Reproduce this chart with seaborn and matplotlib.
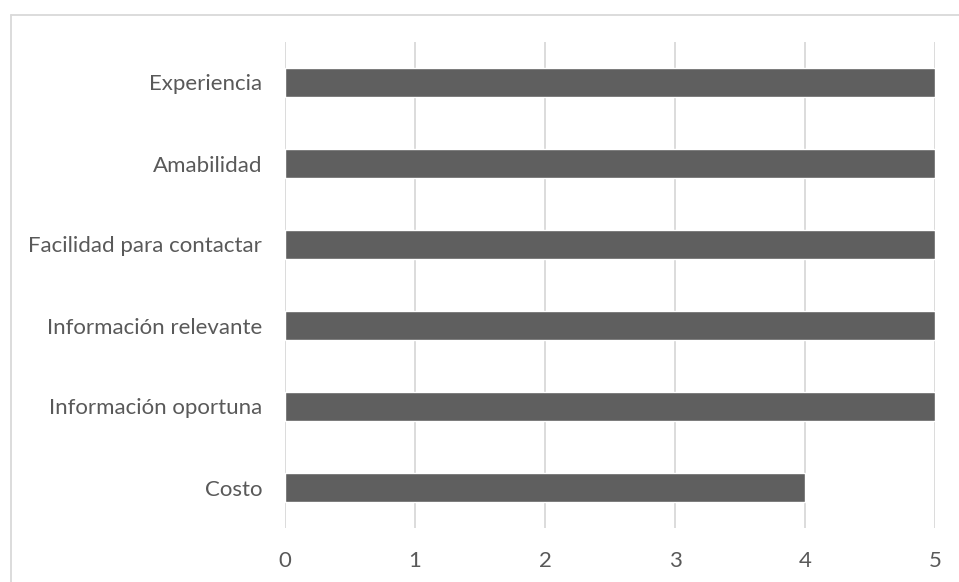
import matplotlib
matplotlib.use("Agg")
import matplotlib.pyplot as plt
from matplotlib.lines import Line2D
import seaborn as sns
import pandas as pd

categories = ["Experiencia", "Amabilidad", "Facilidad para contactar",
              "Información relevante", "Información oportuna", "Costo"]
values = [5, 5, 5, 5, 5, 4]
x_ticks = [0, 1, 2, 3, 4, 5]

df = pd.DataFrame({"criterio": categories, "puntaje": values})

sns.set_theme(style="white")
plt.rcParams["font.family"] = ["Lato", "DejaVu Sans"]

W, H = 959, 582
fig = plt.figure(figsize=(W / 100, H / 100), dpi=100)
ax = fig.add_axes([285 / W, 1 - 528 / H, 650 / W, 486 / H])

sns.barplot(data=df, y="criterio", x="puntaje", orient="h", color="#5f5f5f",
            saturation=1, width=0.36, ax=ax, order=categories)

ax.set_xlim(0, 5)
ax.set_ylim(len(categories) - 0.5, -0.5)
ax.set_xticks(x_ticks)
ax.set_xticklabels([str(t) for t in x_ticks])
ax.xaxis.grid(True, color="#d9d9d9", linewidth=1.3)
ax.set_axisbelow(True)
for s in ax.spines.values():
    s.set_visible(False)
ax.set_xlabel("")
ax.set_ylabel("")
ax.tick_params(axis="x", length=0, pad=16.5, labelsize=16, labelcolor="#595959")
ax.tick_params(axis="y", length=0, pad=16.5, labelsize=16, labelcolor="#595959")

# chart area frame (left and top edges)
fig.add_artist(Line2D([11 / W, 11 / W], [0, 1 - 15 / H], color="#d9d9d9", lw=1.3))
fig.add_artist(Line2D([11 / W, 1], [1 - 15 / H, 1 - 15 / H], color="#d9d9d9", lw=1.3))

fig.savefig("out.png", dpi=100)
